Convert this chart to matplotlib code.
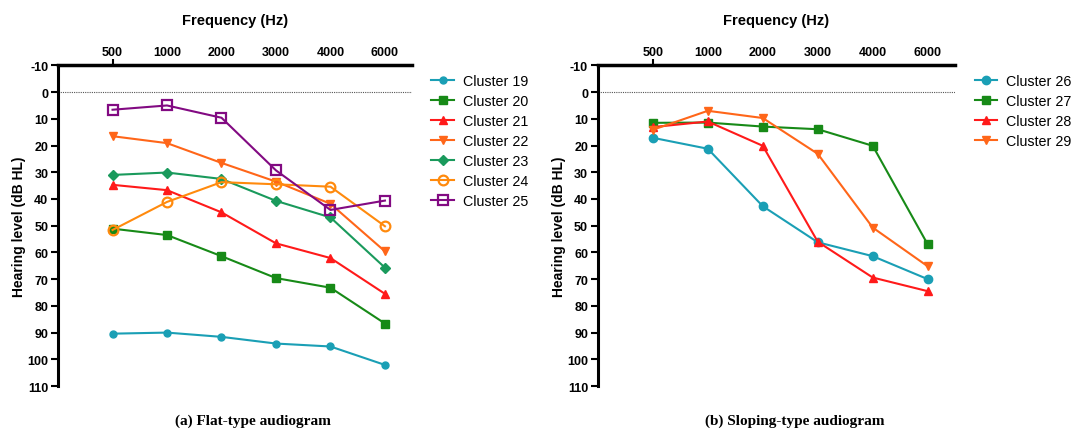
import matplotlib.pyplot as plt

plt.rcParams['font.family'] = ['Liberation Sans', 'DejaVu Sans']

freqs = ["500", "1000", "2000", "3000", "4000", "6000"]
db_ticks = list(range(-10, 111, 10))

# flat-type clusters
flat_names = ["Cluster 19", "Cluster 20", "Cluster 21", "Cluster 22",
              "Cluster 23", "Cluster 24", "Cluster 25"]
c19 = [90.4, 90.0, 91.6, 94.1, 95.2, 102.1]
c20 = [51.1, 53.5, 61.4, 69.6, 73.2, 86.6]
c21 = [34.7, 36.7, 45.0, 56.6, 62.1, 75.5]
c22 = [16.5, 19.1, 26.5, 33.5, 41.8, 59.6]
c23 = [31.0, 30.1, 32.5, 40.7, 46.9, 65.7]
c24 = [51.6, 41.1, 33.7, 34.5, 35.4, 50.2]
c25 = [6.6, 5.0, 9.6, 29.3, 44.1, 40.6]
flat_vals = [c19, c20, c21, c22, c23, c24, c25]

# sloping-type clusters
slope_names = ["Cluster 26", "Cluster 27", "Cluster 28", "Cluster 29"]
c26 = [17.1, 21.2, 42.7, 56.2, 61.4, 70.0]
c27 = [11.5, 11.4, 12.9, 13.9, 20.1, 57.0]
c28 = [13.1, 11.0, 20.1, 56.0, 69.4, 74.5]
c29 = [14.1, 7.0, 9.7, 23.1, 50.7, 65.2]
slope_vals = [c26, c27, c28, c29]

teal = "#1a9fb5"
green = "#178a17"
red = "#ff1a1a"
orange_red = "#ff6619"
sea = "#1a9a5c"
orange = "#ff8a0d"
purple = "#820a82"

flat_styles = [
    dict(color=teal, marker="o", ms=5),
    dict(color=green, marker="s", ms=6),
    dict(color=red, marker="^", ms=6),
    dict(color=orange_red, marker="v", ms=6),
    dict(color=sea, marker="D", ms=5),
    dict(color=orange, marker="o", ms=7, mfc="none", mew=1.6),
    dict(color=purple, marker="s", ms=7, mfc="none", mew=1.6),
]
slope_styles = [
    dict(color=teal, marker="o", ms=6),
    dict(color=green, marker="s", ms=6),
    dict(color=red, marker="^", ms=6),
    dict(color=orange_red, marker="v", ms=6),
]


def draw_panel(ax, names, vals, styles, caption, legend_x):
    x = list(range(len(freqs)))
    for name, v, st in zip(names, vals, styles):
        ax.plot(x, v, lw=1.5, label=name, **st)
    ax.axhline(0, color="#555555", lw=0.8, ls=(0, (1, 1)))
    ax.set_xlim(-1, 5.5)
    ax.set_ylim(110, -10)
    ax.set_yticks(db_ticks)
    ax.set_yticklabels([str(t) for t in db_ticks], fontweight="bold", fontsize=9)
    ax.xaxis.tick_top()
    ax.xaxis.set_label_position("top")
    ax.set_xticks(x)
    ax.set_xticklabels(freqs, fontweight="bold", fontsize=9)
    ax.tick_params(axis="x", length=4, width=1.5, pad=1)
    for i, t in enumerate(ax.xaxis.get_major_ticks()):
        if i > 0:
            t.tick2line.set_visible(False)
    ax.tick_params(axis="y", length=5, width=1.5, pad=2)
    ax.set_xlabel("Frequency (Hz)", fontweight="bold", fontsize=10.5, labelpad=16)
    ax.set_ylabel("Hearing level (dB HL)", fontweight="bold", fontsize=10, labelpad=1)
    for s in ["right", "bottom"]:
        ax.spines[s].set_visible(False)
    ax.spines["top"].set_linewidth(2.5)
    ax.spines["left"].set_linewidth(2.2)
    ax.legend(loc="upper left", bbox_to_anchor=(legend_x, 1.0), frameon=False,
              fontsize=10.3, handlelength=1.6, handletextpad=0.6, labelspacing=0.42,
              borderaxespad=0.2)
    ax.text(0.55, -0.085, caption, transform=ax.transAxes, ha="center", va="top",
            family="Liberation Serif", fontweight="bold", fontsize=11)


fig = plt.figure(figsize=(10.83, 4.31), dpi=100)
ax1 = fig.add_axes([0.0536, 0.102, 0.327, 0.744])
ax2 = fig.add_axes([0.552, 0.102, 0.330, 0.744])

draw_panel(ax1, flat_names, flat_vals, flat_styles, "(a) Flat-type audiogram", 1.03)
draw_panel(ax2, slope_names, slope_vals, slope_styles, "(b) Sloping-type audiogram", 1.03)

fig.savefig("out.png", dpi=100)
